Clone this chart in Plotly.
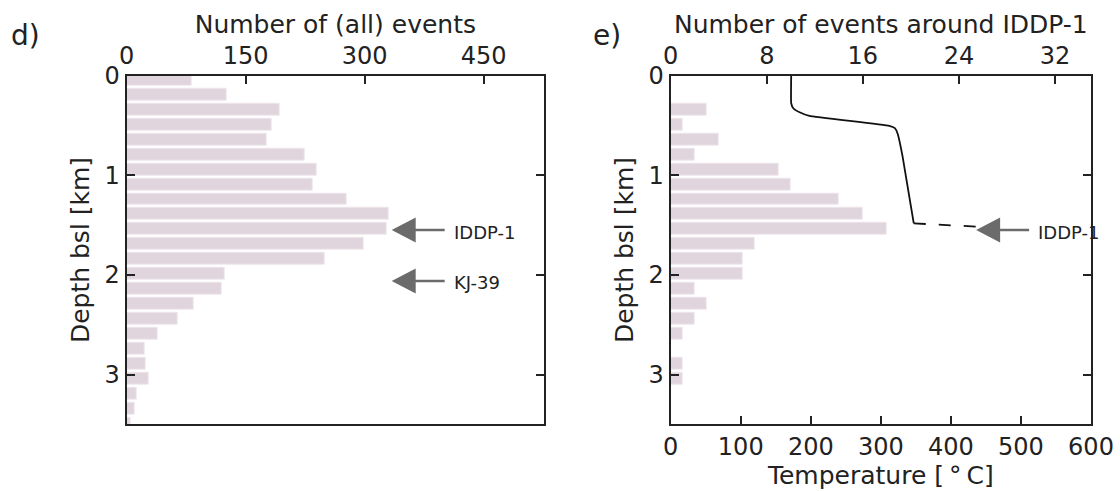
import plotly.graph_objects as go

# Depth bins (km below sea level), centre of each histogram bar
depth_bins = [0.04, 0.19, 0.34, 0.49, 0.64, 0.79, 0.94, 1.09, 1.24, 1.39, 1.54, 1.69,
              1.84, 1.99, 2.14, 2.29, 2.44, 2.59, 2.74, 2.89, 3.04, 3.19, 3.34, 3.49]

# Event counts per depth bin
all_events = [82, 126, 193, 183, 176, 224, 240, 235, 277, 330, 328, 299,
              249, 123, 120, 84, 64, 39, 23, 24, 28, 13, 10, 5]
iddp1_events = [0, 0, 3, 1, 4, 2, 9, 10, 14, 16, 18, 7,
                6, 6, 2, 3, 2, 1, 0, 1, 1, 0, 0, 0]

# Temperature profile in IDDP-1 (measured part and extrapolated part)
temp_depth = [0.0, 0.277, 0.327, 0.367, 0.403, 0.503, 0.527, 0.583, 0.81, 1.483]
temp_c = [172, 172, 175, 184, 198, 312, 320, 324, 331, 347]
temp_extra_depth = [1.483, 1.515]
temp_extra_c = [347, 436]

# Well markers
wells_left = ["IDDP-1", "KJ-39"]
wells_left_depth = [1.55, 2.06]
wells_left_x = [334, 334]
wells_right = ["IDDP-1"]
wells_right_depth = [1.55]
wells_right_x = [436]

W, H = 1120, 491
FONT = "DejaVu Sans"
BAR_COLOR = "rgb(224,212,221)"
ARROW_COLOR = "#6b6b6b"
AX_COLOR = "#222222"


def px_x(p):
    return p / W


def px_y(p):
    return 1 - p / H


fig = go.Figure()

fig.add_trace(go.Bar(
    x=all_events, y=depth_bins, orientation="h", width=0.12,
    marker=dict(color=BAR_COLOR, line=dict(color="rgb(238,231,236)", width=1)),
    xaxis="x", yaxis="y", showlegend=False,
))
fig.add_trace(go.Bar(
    x=iddp1_events, y=depth_bins, orientation="h", width=0.12,
    marker=dict(color=BAR_COLOR, line=dict(color="rgb(238,231,236)", width=1)),
    xaxis="x2", yaxis="y2", showlegend=False,
))
fig.add_trace(go.Scatter(
    x=temp_c, y=temp_depth, mode="lines",
    line=dict(color="#111111", width=1.8, shape="spline", smoothing=0.3),
    xaxis="x3", yaxis="y2", showlegend=False,
))
fig.add_trace(go.Scatter(
    x=temp_extra_c, y=temp_extra_depth, mode="lines",
    line=dict(color="#111111", width=1.8, dash="12px,13px"),
    xaxis="x3", yaxis="y2", showlegend=False,
))

tickfont = dict(family=FONT, size=24, color="#222222")
titlefont = dict(family=FONT, size=25, color="#222222")
common = dict(showgrid=False, zeroline=False, ticks="inside", ticklen=8, tickwidth=1.5,
              tickcolor=AX_COLOR, showline=True, linecolor=AX_COLOR, linewidth=2,
              tickfont=tickfont, automargin=False)

dom_left = [px_x(126.7), px_x(544)]
dom_right = [px_x(670.7), px_x(1091)]
dom_y = [px_y(424.3), px_y(75.7)]

fig.update_layout(
    width=W, height=H,
    margin=dict(l=0, r=0, t=0, b=0),
    paper_bgcolor="white", plot_bgcolor="white",
    bargap=0,
    xaxis=dict(domain=dom_left, anchor="y", side="top", range=[0, 526],
               tickvals=[0, 150, 300, 450], mirror=True,
               title=dict(text="Number of (all) events", font=titlefont, standoff=1),
               **common),
    yaxis=dict(domain=dom_y, anchor="x", range=[3.5, 0], tickvals=[0, 1, 2, 3],
               mirror="ticks",
               title=dict(text="Depth bsl [km]", font=titlefont, standoff=8),
               **common),
    xaxis2=dict(domain=dom_right, anchor="y2", side="top", range=[0, 35],
                tickvals=[0, 8, 16, 24, 32],
                title=dict(text="Number of events around IDDP-1", font=titlefont, standoff=1),
                **common),
    xaxis3=dict(domain=dom_right, anchor="y2", side="bottom", overlaying="x2",
                range=[0, 600], tickvals=[0, 100, 200, 300, 400, 500, 600],
                title=dict(text="Temperature [\u2009°\u2009C]", font=titlefont, standoff=6),
                **common),
    yaxis2=dict(domain=dom_y, anchor="x2", range=[3.5, 0], tickvals=[0, 1, 2, 3],
                mirror="ticks",
                title=dict(text="Depth bsl [km]", font=titlefont, standoff=8),
                **common),
)


def add_arrow(xref, yref, x_tip, depth, label):
    # filled triangular head plus a short shaft, sized in pixels
    fig.add_shape(type="path", xref=xref, yref=yref, xsizemode="pixel", ysizemode="pixel",
                  xanchor=x_tip, yanchor=depth,
                  path="M0,0 L24,12.5 L24,-12.5 Z",
                  fillcolor=ARROW_COLOR, line=dict(width=0))
    fig.add_shape(type="path", xref=xref, yref=yref, xsizemode="pixel", ysizemode="pixel",
                  xanchor=x_tip, yanchor=depth,
                  path="M22,0 L53,0",
                  line=dict(color=ARROW_COLOR, width=2.5))
    fig.add_annotation(xref=xref, yref=yref, x=x_tip, y=depth, text=label,
                       showarrow=False, xanchor="left", yanchor="middle",
                       xshift=60, yshift=-2,
                       font=dict(family=FONT, size=18, color="#222222"))


for name, d, xv in zip(wells_left, wells_left_depth, wells_left_x):
    add_arrow("x", "y", xv, d, name)
for name, d, xv in zip(wells_right, wells_right_depth, wells_right_x):
    add_arrow("x3", "y2", xv, d, name)

# panel labels
for txt, xp in [("d)", 9), ("e)", 591)]:
    fig.add_annotation(xref="paper", yref="paper", x=px_x(xp), y=px_y(35), text=txt,
                       showarrow=False, xanchor="left", yanchor="middle",
                       font=dict(family=FONT, size=28, color="#222222"))

fig.write_html("out.html")
